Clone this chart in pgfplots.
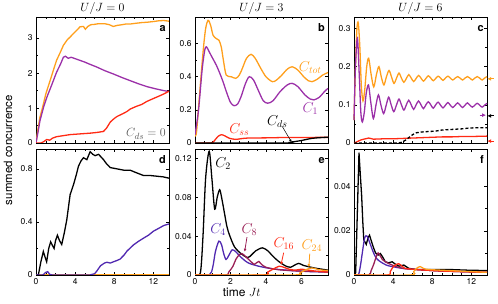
\documentclass[border=0pt]{standalone}
\usepackage{fontspec}
\setmainfont{TeX Gyre Heros}
\usepackage{pgfplots}
\pgfplotsset{compat=1.18}
\usetikzlibrary{arrows.meta}

\definecolor{corange}{HTML}{FF9F1C}
\definecolor{cpurple}{HTML}{9B30A8}
\definecolor{cred}{HTML}{FF2A14}
\definecolor{cblue}{HTML}{5028B0}
\definecolor{cmaroon}{HTML}{9A1F55}

\tikzset{lbl/.style={font=\fontsize{11}{11}\selectfont\bfseries, anchor=base east, inner sep=0pt}}
\pgfplotsset{
  every axis title/.style={at={(0.5,1)}, anchor=base, inner sep=0pt, yshift=5.5bp, font=\fontsize{12.5}{13}\selectfont},
  panel/.style={
    scale only axis, width=133bp, height=126bp, anchor=south west,
    tick pos=both, tick align=inside,
    major tick length=3bp, minor tick length=1.8bp,
    minor y tick num=1, minor x tick num=3,
    every tick label/.append style={font=\fontsize{8.5}{10}\selectfont},
    /pgf/number format/assume math mode=true,
    scaled y ticks=false, scaled x ticks=false,
    yticklabel style={/pgf/number format/fixed, /pgf/number format/precision=2},
    every axis plot/.append style={line width=1.3pt, no markers},
    axis line style={line width=0.8pt},
    every tick/.style={black, line width=0.5pt},
    xmin=0, ymin=0,
  },
}

\begin{document}
\begin{tikzpicture}
\path[use as bounding box] (0,0) rectangle (498bp,304bp);

% ---------------- panel a ----------------
\begin{axis}[panel, at={(36bp,161bp)}, xmax=13.6, ymax=3.6,
  xtick={0,4,8,12}, xticklabels={}, ytick={0,1,2,3}, title={$U/J=0$}]
\addplot[corange] coordinates {(0,0)(0.2,0.4)(0.4,0.73)(0.7,1.05)(1.0,1.4)(1.44,1.78)(1.8,2.1)(2.1,2.36)(2.5,2.6)(2.8,2.79)(3.2,2.95)(3.5,3.03)(3.8,3.12)(4.17,3.22)(4.5,3.32)(4.85,3.33)(5.05,3.25)(5.3,3.33)(5.6,3.38)(6.0,3.39)(6.4,3.41)(7.0,3.41)(7.5,3.38)(7.9,3.33)(8.3,3.36)(8.8,3.38)(9.2,3.4)(9.64,3.4)(10.2,3.42)(10.8,3.44)(11.35,3.45)(12,3.47)(12.5,3.49)(13.06,3.5)(13.6,3.48)};
\addplot[cpurple] coordinates {(0,0)(0.2,0.3)(0.4,0.63)(0.8,1.05)(1.1,1.3)(1.44,1.54)(1.8,1.8)(2.1,2.02)(2.5,2.25)(2.8,2.45)(3.0,2.48)(3.3,2.42)(3.6,2.45)(4.0,2.41)(4.5,2.36)(5.0,2.31)(5.5,2.25)(6.22,2.17)(7.0,2.07)(7.93,1.97)(8.8,1.87)(9.64,1.78)(10.5,1.69)(11.35,1.61)(12.2,1.55)(13.0,1.5)(13.6,1.47)};
\addplot[cred] coordinates {(0,0)(0.5,0)(0.8,0.04)(1.1,0.1)(1.4,0.08)(1.7,0.14)(2.1,0.18)(2.8,0.21)(3.5,0.24)(4.5,0.26)(5.5,0.28)(6.2,0.3)(6.9,0.33)(7.2,0.42)(7.6,0.6)(8.0,0.7)(8.3,0.76)(8.9,0.84)(9.3,0.9)(9.64,0.97)(10.2,1.04)(10.8,1.1)(11.35,1.19)(12.0,1.27)(12.5,1.33)(13.06,1.40)(13.6,1.48)};
\node[lbl] at (rel axis cs:0.977,0.885) {a};
\node[anchor=base east, inner sep=0pt, text=black!65, font=\fontsize{13}{13}\selectfont] at (rel axis cs:0.977,0.048) {$C_{ds}=0$};
\end{axis}

% ---------------- panel b ----------------
\begin{axis}[panel, at={(195bp,161bp)}, xmax=7.5, ymax=0.76,
  xtick={0,2,4,6}, xticklabels={}, ytick={0,0.2,0.4,0.6}, title={$U/J=3$}]
\addplot[corange, smooth] coordinates {(0,0.05)(0.09,0.07)(0.3,0.35)(0.46,0.555)(0.6,0.69)(0.74,0.74)(0.88,0.71)(1.02,0.65)(1.2,0.63)(1.35,0.62)(1.48,0.58)(1.6,0.5)(1.76,0.41)(2.04,0.40)(2.3,0.39)(2.5,0.41)(2.67,0.45)(2.9,0.51)(3.16,0.535)(3.4,0.51)(3.71,0.45)(4.0,0.4)(4.36,0.37)(4.6,0.38)(4.9,0.41)(5.2,0.445)(5.48,0.46)(5.8,0.44)(6.13,0.40)(6.4,0.375)(6.6,0.37)(6.9,0.385)(7.2,0.41)(7.5,0.425)};
\addplot[cpurple, smooth] coordinates {(0,0.05)(0.2,0.2)(0.4,0.44)(0.55,0.56)(0.65,0.58)(0.8,0.55)(1.0,0.51)(1.2,0.47)(1.4,0.42)(1.58,0.37)(1.8,0.3)(2.0,0.245)(2.2,0.225)(2.4,0.235)(2.6,0.28)(2.85,0.36)(3.06,0.40)(3.3,0.38)(3.6,0.31)(3.85,0.255)(4.1,0.24)(4.4,0.255)(4.8,0.31)(5.2,0.35)(5.48,0.36)(5.8,0.34)(6.2,0.29)(6.5,0.265)(6.7,0.26)(7.0,0.275)(7.3,0.31)(7.5,0.33)};
\addplot[cred, smooth] coordinates {(0,0)(0.9,0)(1.1,0.015)(1.3,0.04)(1.5,0.05)(1.7,0.042)(1.95,0.028)(2.3,0.022)(2.6,0.026)(3.0,0.03)(4.0,0.031)(5.0,0.033)(6.0,0.033)(7.0,0.034)(7.5,0.034)};
\addplot[black, smooth] coordinates {(0,0)(4.9,0)(5.3,0.003)(5.6,0.008)(6.0,0.015)(6.3,0.022)(6.6,0.028)(7.0,0.032)(7.5,0.035)};
\node[lbl] at (rel axis cs:0.977,0.885) {b};
\node[text=corange, font=\fontsize{14}{14}\selectfont] at (axis cs:6.5,0.456) {$C_{tot}$};
\node[text=cpurple, font=\fontsize{14}{14}\selectfont] at (axis cs:6.5,0.21) {$C_{1}$};
\node[text=cred, font=\fontsize{14}{14}\selectfont] at (axis cs:2.5,0.08) {$C_{ss}$};
\node[text=black, font=\fontsize{14}{14}\selectfont] at (axis cs:4.64,0.13) {$C_{ds}$};
\draw[black, line width=0.5pt, -{Latex[length=3bp,width=2.5bp]}] (axis cs:4.92,0.1) -- (axis cs:5.45,0.004);
\end{axis}

% ---------------- panel c ----------------
\begin{axis}[panel, at={(354bp,161bp)}, xmax=13.6, ymax=0.33, clip=false,
  xtick={0,4,8,12}, xticklabels={}, ytick={0,0.1,0.2,0.3}, title={$U/J=6$}]
\addplot[corange, smooth] coordinates {(0,0.06)(0.15,0.2)(0.3,0.3)(0.44,0.314)(0.6,0.25)(0.75,0.15)(0.92,0.11)(1.1,0.14)(1.3,0.2)(1.5,0.222)(1.75,0.18)(2.02,0.147)(2.3,0.18)(2.55,0.2)(2.8,0.172)(3.06,0.152)(3.3,0.172)(3.58,0.19)(3.85,0.172)(4.09,0.156)(4.35,0.17)(4.6,0.183)(4.85,0.17)(5.1,0.159)(5.35,0.169)(5.6,0.179)(5.85,0.17)(6.1,0.161)(6.35,0.169)(6.6,0.177)(6.85,0.17)(7.1,0.162)(7.35,0.169)(7.6,0.176)(7.85,0.17)(8.1,0.163)(8.35,0.169)(8.6,0.175)(8.85,0.17)(9.1,0.164)(9.35,0.17)(9.6,0.175)(9.85,0.17)(10.1,0.165)(10.35,0.17)(10.6,0.174)(10.85,0.17)(11.1,0.165)(11.35,0.17)(11.6,0.174)(11.85,0.17)(12.1,0.165)(12.35,0.17)(12.6,0.174)(12.85,0.17)(13.1,0.165)(13.35,0.17)(13.6,0.174)};
\addplot[cpurple, smooth] coordinates {(0,0.06)(0.15,0.2)(0.35,0.275)(0.55,0.17)(0.7,0.08)(0.85,0.055)(1.05,0.08)(1.25,0.13)(1.48,0.152)(1.7,0.11)(1.98,0.064)(2.25,0.1)(2.5,0.126)(2.75,0.1)(3.03,0.077)(3.3,0.1)(3.55,0.12)(3.8,0.1)(4.07,0.082)(4.35,0.1)(4.6,0.115)(4.85,0.1)(5.1,0.086)(5.35,0.1)(5.6,0.112)(5.85,0.1)(6.1,0.088)(6.35,0.1)(6.6,0.11)(6.85,0.1)(7.1,0.09)(7.35,0.1)(7.6,0.108)(7.85,0.1)(8.1,0.091)(8.35,0.1)(8.6,0.107)(8.85,0.099)(9.1,0.092)(9.35,0.099)(9.6,0.106)(9.85,0.099)(10.1,0.093)(10.35,0.099)(10.6,0.105)(10.85,0.099)(11.1,0.093)(11.35,0.099)(11.6,0.105)(11.85,0.099)(12.1,0.094)(12.35,0.099)(12.6,0.104)(12.85,0.099)(13.1,0.094)(13.35,0.099)(13.6,0.104)};
\addplot[cred] coordinates {(0,0)(0.3,0.003)(0.7,0.008)(1.0,0.01)(1.5,0.013)(2.0,0.01)(3.0,0.011)(4.0,0.011)(5.0,0.012)(6.0,0.013)(7.0,0.014)(8.0,0.015)(9.0,0.016)(10.0,0.016)(11.0,0.017)(12.0,0.017)(13.6,0.018)};
\addplot[black, densely dashed] coordinates {(0,0)(4.5,0)(4.9,0.002)(5.24,0.007)(5.6,0.014)(5.9,0.02)(6.2,0.025)(6.4,0.027)(7.0,0.029)(7.6,0.03)(8.3,0.031)(9.0,0.034)(9.6,0.035)(10.3,0.036)(11.0,0.037)(11.7,0.039)(12.5,0.04)(13.6,0.04)};
\addplot[corange, line width=0.9pt, -{Latex[length=4bp,width=4bp]}] coordinates {(14.3,0.168)(13.62,0.168)};
\addplot[cpurple, line width=0.9pt, -{Latex[length=4bp,width=4bp]}] coordinates {(12.85,0.073)(13.5,0.073)};
\addplot[black, line width=0.9pt, -{Latex[length=4bp,width=4bp]}] coordinates {(14.3,0.071)(13.62,0.071)};
\addplot[cred, line width=0.9pt, -{Latex[length=4bp,width=4bp]}] coordinates {(14.3,0.005)(13.62,0.005)};
\node[lbl] at (rel axis cs:0.977,0.885) {c};
\end{axis}

% ---------------- panel d ----------------
\begin{axis}[panel, at={(36bp,29bp)}, xmax=13.6, ymax=0.95,
  xtick={0,4,8,12}, ytick={0,0.4,0.8}]
\addplot[corange] coordinates {(0,0)(13.6,0)};
\addplot[black] coordinates {(0,0)(0.24,0)(0.5,0.1)(0.75,0.177)(0.95,0.13)(1.09,0.10)(1.3,0.2)(1.5,0.25)(1.7,0.22)(1.85,0.20)(2.0,0.26)(2.19,0.30)(2.4,0.26)(2.63,0.23)(2.9,0.32)(3.15,0.417)(3.49,0.606)(3.83,0.68)(4.1,0.75)(4.34,0.82)(4.6,0.86)(4.85,0.884)(5.2,0.87)(5.54,0.93)(5.8,0.91)(6.05,0.90)(6.4,0.91)(6.9,0.87)(7.2,0.84)(7.59,0.81)(8.3,0.80)(9.0,0.79)(9.64,0.79)(10.3,0.77)(11,0.75)(11.7,0.75)(12.35,0.745)(13,0.74)(13.6,0.73)};
\addplot[cblue] coordinates {(0,0)(0.7,0)(1.0,0.02)(1.2,0.025)(1.4,0.005)(1.7,0)(5.5,0)(6.0,0.01)(6.22,0.03)(6.6,0.07)(7.0,0.09)(7.25,0.096)(7.6,0.09)(7.93,0.1)(8.3,0.11)(8.6,0.12)(9.0,0.15)(9.3,0.18)(9.97,0.227)(10.5,0.255)(11,0.278)(11.5,0.3)(12,0.33)(12.5,0.35)(13.06,0.373)(13.6,0.385)};
\node[lbl] at (rel axis cs:0.977,0.885) {d};
\end{axis}

% ---------------- panel e ----------------
\begin{axis}[panel, at={(195bp,29bp)}, xmax=7.5, ymax=0.13,
  xtick={0,2,4,6}, ytick={0,0.04,0.08,0.12}]
\addplot[black, smooth] coordinates {(0,0)(0.3,0.002)(0.45,0.04)(0.6,0.1)(0.8,0.1276)(0.95,0.1)(1.11,0.068)(1.25,0.08)(1.39,0.088)(1.5,0.08)(1.67,0.063)(1.8,0.05)(1.95,0.041)(2.23,0.029)(2.6,0.022)(2.97,0.018)(3.2,0.021)(3.43,0.025)(3.8,0.028)(4.1,0.025)(4.36,0.02)(4.65,0.015)(4.92,0.0114)(5.15,0.009)(5.39,0.008)(5.6,0.01)(5.85,0.012)(6.1,0.01)(6.4,0.0086)(6.8,0.007)(7.15,0.006)(7.5,0.005)};
\addplot[cblue, smooth] coordinates {(0,0)(0.8,0)(1.0,0.008)(1.15,0.024)(1.35,0.035)(1.5,0.031)(1.62,0.022)(1.75,0.016)(1.9,0.02)(2.1,0.026)(2.3,0.024)(2.5,0.02)(2.8,0.015)(3.06,0.012)(3.5,0.0095)(4.0,0.0075)(4.55,0.006)(5.5,0.0045)(6.5,0.0035)(7.5,0.003)};
\addplot[cmaroon, smooth] coordinates {(0,0)(1.7,0)(1.9,0.003)(2.14,0.009)(2.3,0.016)(2.5,0.021)(2.65,0.022)(2.8,0.02)(2.97,0.017)(3.2,0.013)(3.34,0.011)(3.5,0.013)(3.6,0.014)(3.75,0.011)(4.0,0.008)(4.5,0.006)(5.0,0.005)(6.0,0.004)(7.0,0.0035)(7.5,0.003)};
\addplot[cred, smooth] coordinates {(0,0)(3.8,0)(4.1,0.003)(4.4,0.006)(4.74,0.009)(5.0,0.008)(5.3,0.006)(5.66,0.005)(6.0,0.006)(6.4,0.005)(6.8,0.004)(7.5,0.003)};
\addplot[corange, smooth] coordinates {(0,0)(5.5,0)(5.9,0.002)(6.2,0.005)(6.59,0.0073)(6.96,0.0055)(7.2,0.005)(7.5,0.0045)};
\node[lbl] at (rel axis cs:0.977,0.885) {e};
\node[text=black, font=\fontsize{14}{14}\selectfont] at (axis cs:1.58,0.115) {$C_{2}$};
\node[text=cblue, font=\fontsize{14}{14}\selectfont] at (axis cs:1.3,0.047) {$C_{4}$};
\node[text=cmaroon, font=\fontsize{14}{14}\selectfont] at (axis cs:3.06,0.047) {$C_{8}$};
\node[text=cred, font=\fontsize{14}{14}\selectfont] at (axis cs:5.01,0.032) {$C_{16}$};
\node[text=corange, font=\fontsize{14}{14}\selectfont] at (axis cs:6.59,0.0305) {$C_{24}$};
\draw[cmaroon, line width=0.8pt, -{Latex[length=3bp,width=3bp]}] (axis cs:2.93,0.039) -- (axis cs:2.8,0.024);
\draw[cred, line width=0.8pt, -{Latex[length=3bp,width=3bp]}] (axis cs:5.0,0.023) -- (axis cs:4.85,0.0105);
\draw[corange, line width=0.8pt, -{Latex[length=3bp,width=3bp]}] (axis cs:6.47,0.022) -- (axis cs:6.42,0.008);
\end{axis}

% ---------------- panel f ----------------
\begin{axis}[panel, at={(354bp,29bp)}, xmax=13.6, ymax=0.057,
  xtick={0,4,8,12}, ytick={0,0.02,0.04}]
\addplot[black] coordinates {(0,0)(0.17,0.001)(0.34,0.028)(0.51,0.0554)(0.65,0.045)(0.78,0.036)(0.9,0.024)(1.0,0.016)(1.25,0.0138)(1.45,0.017)(1.59,0.018)(1.8,0.015)(2.0,0.0123)(2.2,0.01)(2.47,0.009)(2.7,0.0097)(2.95,0.008)(3.2,0.006)(3.55,0.0055)(3.9,0.006)(4.2,0.005)(4.6,0.004)(5.1,0.0045)(5.6,0.003)(6.3,0.0025)(8,0.0025)(9.7,0.0025)(11.5,0.0022)(13.6,0.002)};
\addplot[cblue, smooth] coordinates {(0,0)(0.44,0)(0.65,0.004)(0.85,0.01)(1.1,0.017)(1.35,0.0175)(1.6,0.0147)(2.0,0.01)(2.3,0.0075)(2.7,0.006)(3.3,0.0045)(3.9,0.0038)(5,0.003)(6.3,0.0025)(9,0.0018)(13.6,0.0012)};
\addplot[cmaroon, smooth] coordinates {(0,0)(1.5,0)(1.75,0.002)(2.03,0.005)(2.25,0.008)(2.47,0.01)(2.7,0.0085)(2.9,0.007)(3.4,0.0055)(4.2,0.004)(5,0.003)(6.3,0.0025)(9,0.0018)(13.6,0.0012)};
\addplot[cred, smooth] coordinates {(0,0)(3.4,0)(3.7,0.0015)(4.06,0.004)(4.56,0.0051)(4.9,0.004)(5.2,0.003)(6.3,0.0025)(9,0.0018)(13.6,0.0012)};
\addplot[corange, smooth] coordinates {(0,0)(5.75,0)(6.1,0.0015)(6.4,0.003)(6.76,0.0038)(7.1,0.003)(7.6,0.0025)(9.7,0.002)(13.6,0.0012)};
\node[lbl] at (rel axis cs:0.977,0.885) {f};
\end{axis}

\node[rotate=90, font=\fontsize{11.5}{12}\selectfont] at (8bp,154bp) {summed concurrence};
\node[anchor=base, font=\fontsize{12}{12}\selectfont] at (241.7bp,7.3bp) {time $Jt$};
\end{tikzpicture}
\end{document}
